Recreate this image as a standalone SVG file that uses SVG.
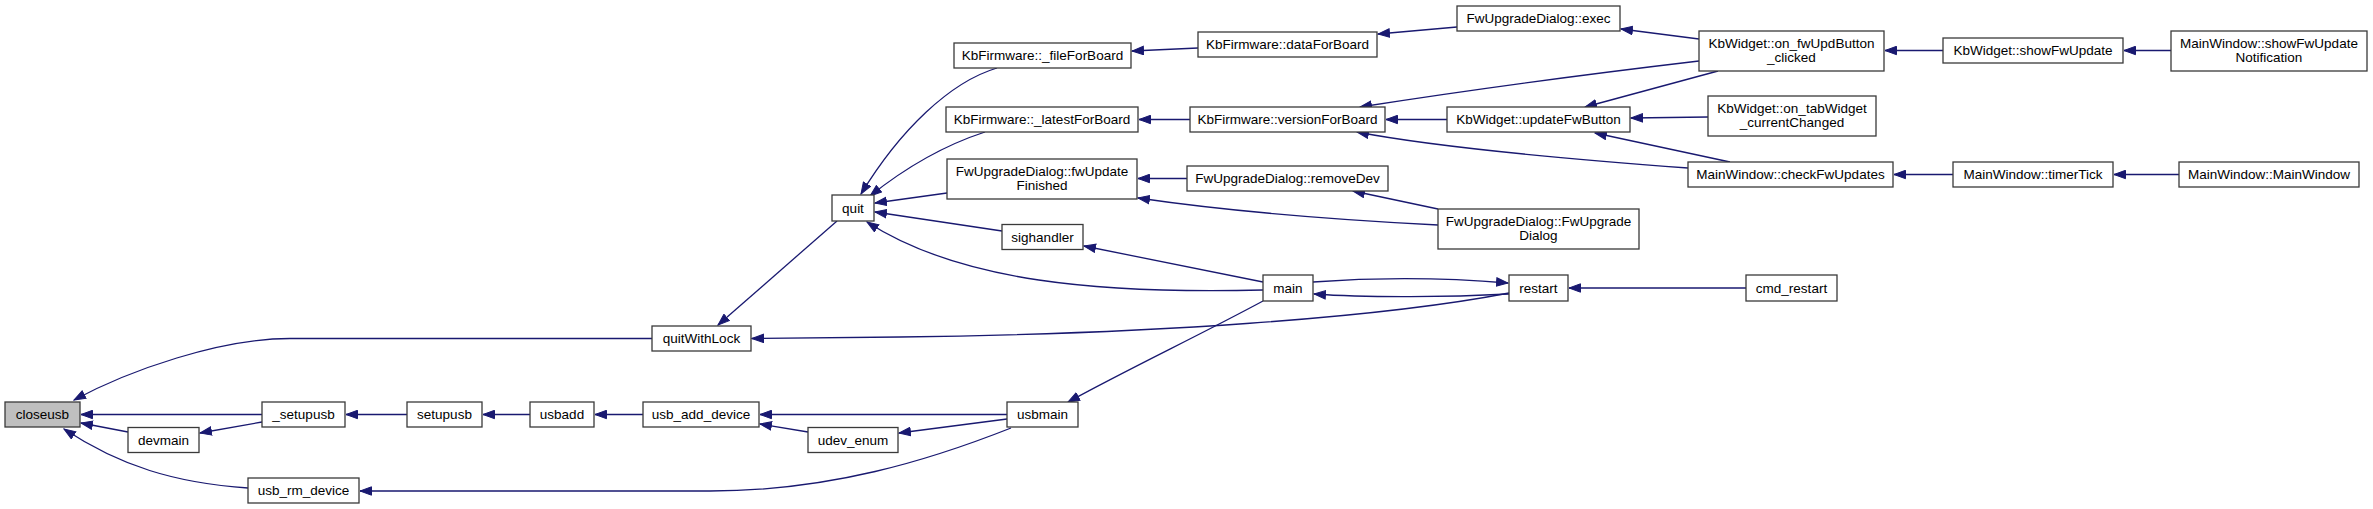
<svg xmlns="http://www.w3.org/2000/svg" width="2373" height="509" viewBox="0 0 2373 509">
<style>
.n rect{fill:#fff;stroke:#3a3a3a;stroke-width:1.3}
.n text{font-family:"Liberation Sans",Arial,sans-serif;font-size:13.5px;fill:#000;text-anchor:middle}
#n_closeusb rect{fill:#bfbfbf}
.e path{fill:none;stroke:#191970;stroke-width:1.3;marker-end:url(#ah)}
</style>
<defs>
<marker id="ah" markerWidth="13" markerHeight="10" refX="12" refY="5" orient="auto" markerUnits="userSpaceOnUse">
<path d="M0.5,0.8 L12,5 L0.5,9.2 z" fill="#191970" stroke="#191970" stroke-width="1"/>
</marker>
</defs>
<rect width="2373" height="509" fill="#fff"/>
<g id="edges" class="e">
<path d="M652,338.5 L290,338.5 C220,338.5 130,370 74,400"/>
<path d="M262,414.5 L81,414.5"/>
<path d="M128,432 L81,423"/>
<path d="M248,488 C175,483 120,466 64,429"/>
<path d="M262,422 L200,433"/>
<path d="M407,414.5 L346,414.5"/>
<path d="M530,414.5 L483,414.5"/>
<path d="M643,414.5 L595,414.5"/>
<path d="M1007,414.5 L760,414.5"/>
<path d="M808,432 L760,424"/>
<path d="M1007,419 L899,433"/>
<path d="M1011,428 C930,460 830,491 710,491 L360,491"/>
<path d="M837,221 L718,325"/>
<path d="M1509,293 C1380,318 1150,334 900,337 L752,338.5"/>
<path d="M997,68 C950,82 900,130 861,194"/>
<path d="M985,132 C945,145 905,168 870,196"/>
<path d="M947,193 L875,203"/>
<path d="M1002,231 L875,212"/>
<path d="M1263,290 C1100,294 960,282 867,222"/>
<path d="M1263,282 L1084,246"/>
<path d="M1263,301 C1200,335 1130,368 1068,402"/>
<path d="M1509,294 C1450,297 1370,298 1314,294"/>
<path d="M1313,282 C1380,277 1450,278 1508,283"/>
<path d="M1746,288 L1569,288"/>
<path d="M1198,48 L1132,51"/>
<path d="M1190,119.5 L1139,119.5"/>
<path d="M1457,27 L1378,34"/>
<path d="M1699,39 L1621,29"/>
<path d="M1699,61 C1580,75 1450,93 1360,107"/>
<path d="M1447,119.5 L1386,119.5"/>
<path d="M1688,168 C1580,160 1440,148 1357,132"/>
<path d="M1718,71 L1585,107"/>
<path d="M1708,117 L1631,118"/>
<path d="M1730,162 L1595,133"/>
<path d="M1438,209 L1353,191"/>
<path d="M1187,178.5 L1138,178.5"/>
<path d="M1438,225 C1320,219 1220,210 1138,198"/>
<path d="M1943,50.5 L1885,50.5"/>
<path d="M2171,50.5 L2124,50.5"/>
<path d="M1953,174.5 L1894,174.5"/>
<path d="M2179,174.5 L2114,174.5"/>
</g>
<g id="n_closeusb" class="n"><rect x="5" y="402" width="75" height="25"/><text x="42.5" y="419">closeusb</text></g>
<g id="n_devmain" class="n"><rect x="128" y="427.5" width="71" height="25"/><text x="163.5" y="444.5">devmain</text></g>
<g id="n_setupusb_" class="n"><rect x="262" y="402" width="83" height="25"/><text x="303.5" y="419">_setupusb</text></g>
<g id="n_usb_rm_device" class="n"><rect x="248" y="478" width="111" height="25"/><text x="303.5" y="495">usb_rm_device</text></g>
<g id="n_quitWithLock" class="n"><rect x="652" y="326" width="99" height="25"/><text x="701.5" y="343">quitWithLock</text></g>
<g id="n_setupusb" class="n"><rect x="407" y="402" width="75" height="25"/><text x="444.5" y="419">setupusb</text></g>
<g id="n_usbadd" class="n"><rect x="530" y="402" width="64" height="25"/><text x="562" y="419">usbadd</text></g>
<g id="n_usb_add_device" class="n"><rect x="643" y="402" width="116" height="25"/><text x="701" y="419">usb_add_device</text></g>
<g id="n_udev_enum" class="n"><rect x="808" y="427.5" width="90" height="25"/><text x="853" y="444.5">udev_enum</text></g>
<g id="n_usbmain" class="n"><rect x="1007" y="402" width="71" height="25"/><text x="1042.5" y="419">usbmain</text></g>
<g id="n_quit" class="n"><rect x="832" y="195" width="42" height="26"/><text x="853" y="212.5">quit</text></g>
<g id="n_fileForBoard" class="n"><rect x="954" y="43" width="177" height="25"/><text x="1042.5" y="60">KbFirmware::_fileForBoard</text></g>
<g id="n_latestForBoard" class="n"><rect x="946" y="107" width="192" height="25"/><text x="1042" y="124">KbFirmware::_latestForBoard</text></g>
<g id="n_fwUpdateFinished" class="n"><rect x="947" y="159" width="190" height="40"/><text x="1042" y="176">FwUpgradeDialog::fwUpdate</text><text x="1042" y="190">Finished</text></g>
<g id="n_sighandler" class="n"><rect x="1002" y="224.5" width="81" height="25"/><text x="1042.5" y="241.5">sighandler</text></g>
<g id="n_main" class="n"><rect x="1263" y="275" width="50" height="26"/><text x="1288" y="292.5">main</text></g>
<g id="n_dataForBoard" class="n"><rect x="1198" y="32" width="179" height="25"/><text x="1287.5" y="49">KbFirmware::dataForBoard</text></g>
<g id="n_versionForBoard" class="n"><rect x="1190" y="107" width="195" height="25"/><text x="1287.5" y="124">KbFirmware::versionForBoard</text></g>
<g id="n_removeDev" class="n"><rect x="1187" y="166" width="201" height="25"/><text x="1287.5" y="183">FwUpgradeDialog::removeDev</text></g>
<g id="n_exec" class="n"><rect x="1457" y="6" width="163" height="25"/><text x="1538.5" y="23">FwUpgradeDialog::exec</text></g>
<g id="n_updateFwButton" class="n"><rect x="1447" y="107" width="183" height="25"/><text x="1538.5" y="124">KbWidget::updateFwButton</text></g>
<g id="n_FwUpgradeDialog" class="n"><rect x="1438" y="209" width="201" height="40"/><text x="1538.5" y="226">FwUpgradeDialog::FwUpgrade</text><text x="1538.5" y="240">Dialog</text></g>
<g id="n_restart" class="n"><rect x="1509" y="275" width="59" height="26"/><text x="1538.5" y="292.5">restart</text></g>
<g id="n_on_fwUpdButton_clicked" class="n"><rect x="1699" y="31" width="185" height="40"/><text x="1791.5" y="48">KbWidget::on_fwUpdButton</text><text x="1791.5" y="62">_clicked</text></g>
<g id="n_on_tabWidget_currentChanged" class="n"><rect x="1708" y="96" width="168" height="40"/><text x="1792" y="113">KbWidget::on_tabWidget</text><text x="1792" y="127">_currentChanged</text></g>
<g id="n_checkFwUpdates" class="n"><rect x="1688" y="162" width="205" height="25"/><text x="1790.5" y="179">MainWindow::checkFwUpdates</text></g>
<g id="n_cmd_restart" class="n"><rect x="1746" y="275" width="91" height="26"/><text x="1791.5" y="292.5">cmd_restart</text></g>
<g id="n_showFwUpdate" class="n"><rect x="1943" y="38" width="180" height="25"/><text x="2033" y="55">KbWidget::showFwUpdate</text></g>
<g id="n_showFwUpdateNotification" class="n"><rect x="2171" y="31" width="196" height="40"/><text x="2269" y="48">MainWindow::showFwUpdate</text><text x="2269" y="62">Notification</text></g>
<g id="n_timerTick" class="n"><rect x="1953" y="162" width="160" height="25"/><text x="2033" y="179">MainWindow::timerTick</text></g>
<g id="n_MainWindow" class="n"><rect x="2179" y="162" width="180" height="25"/><text x="2269" y="179">MainWindow::MainWindow</text></g>
</svg>
